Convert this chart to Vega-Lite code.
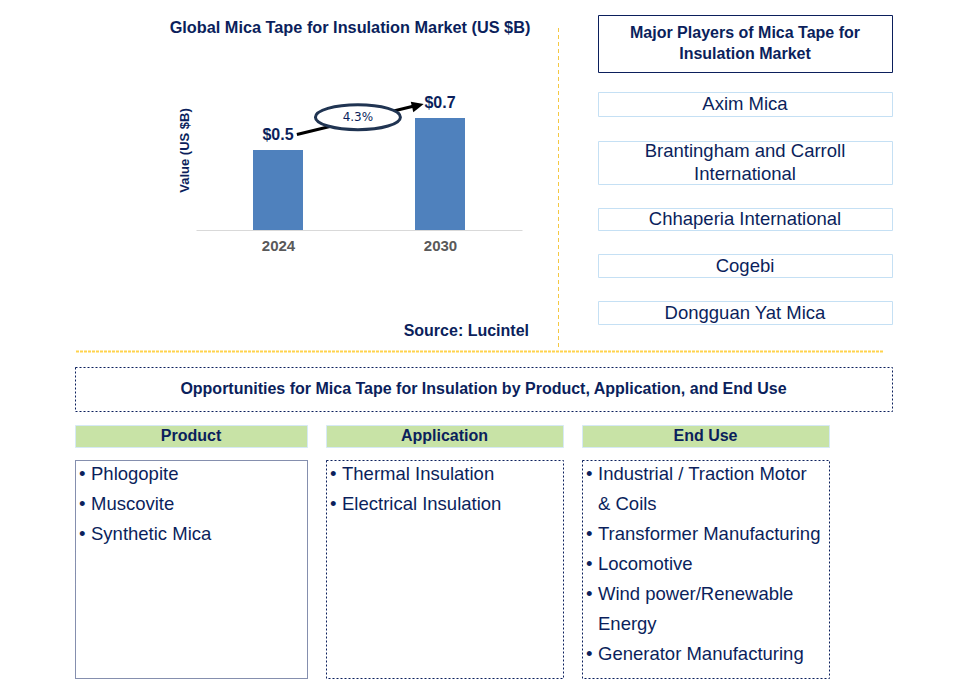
{
  "$schema": "https://vega.github.io/schema/vega-lite/v6.json",
  "background": "white",
  "padding": {"left": 74, "top": 14, "right": 0, "bottom": 0},
  "config": {
    "view": {"stroke": null},
    "font": "Liberation Sans",
    "text": {"font": "Liberation Sans"},
    "title": {"font": "Liberation Sans"},
    "axis": {"labelFont": "Liberation Sans", "titleFont": "Liberation Sans"}
  },
  "spacing": 0,
  "bounds": "full",
  "vconcat": [
    {
      "spacing": 0,
      "bounds": "full",
      "hconcat": [
        {"width": 94, "height": 1, "data": {"values": []}, "mark": "text"},
        {
          "spacing": 0,
          "bounds": "flush",
          "vconcat": [
            {"width": 1, "height": 55, "data": {"values": []}, "mark": "text"},
            {
              "width": 326,
              "height": 160,
              "title": {"text": "Global Mica Tape for Insulation Market (US $B)", "fontSize": 16.3, "fontWeight": "bold", "color": "#0b1f5c", "anchor": "middle", "dx": -9, "offset": 34},
              "layer": [
                {
                  "data": {"values": [{"year": 2024, "value": 0.5}, {"year": 2030, "value": 0.7}]},
                  "encoding": {
                    "x": {"field": "year", "type": "quantitative", "scale": {"domain": [2020.963, 2033.037], "nice": false, "zero": false, "padding": 0},
                      "axis": {"values": [2024, 2030], "format": "d", "title": null, "ticks": false, "grid": false, "labelFontSize": 15, "labelFontWeight": "bold", "labelColor": "#595959", "domainColor": "#d9d9d9", "labelPadding": 8}},
                    "y": {"field": "value", "type": "quantitative", "scale": {"domain": [0, 1], "nice": false, "padding": 0},
                      "axis": {"title": "Value (US $B)", "labels": false, "ticks": false, "domain": false, "grid": false, "titleFontSize": 13, "titleFontWeight": "bold", "titleColor": "#0b1f5c", "titlePadding": 5}}
                  },
                  "layer": [
                    {"mark": {"type": "bar", "width": 50, "color": "#4f81bd"}},
                    {"mark": {"type": "text", "dy": -15, "fontSize": 16, "fontWeight": "bold", "color": "#0b1f5c"},
                      "encoding": {"text": {"field": "value", "type": "quantitative", "format": "$.1f"}}}
                  ]
                },
                {
                  "data": {"values": [{"cagr": "4.3%"}]},
                  "layer": [
                    {"mark": {"type": "rule", "strokeWidth": 3, "color": "#000000"},
                      "encoding": {"x": {"datum": 2024.70}, "x2": {"datum": 2029.12}, "y": {"datum": 0.597}, "y2": {"datum": 0.778}}},
                    {"mark": {"type": "point", "shape": "M-1,-0.9L1,0L-1,0.9Z", "size": 144, "angle": 346, "filled": true, "color": "#000000", "opacity": 1},
                      "encoding": {"x": {"datum": 2029.18}, "y": {"datum": 0.778}}},
                    {"mark": {"type": "point", "shape": "M-1,0A1,0.294,0,1,1,1,0A1,0.294,0,1,1,-1,0Z", "size": 7225, "fill": "white", "stroke": "#203452", "strokeWidth": 3, "opacity": 1},
                      "encoding": {"x": {"datum": 2026.96}, "y": {"datum": 0.705}}},
                    {"mark": {"type": "text", "fontSize": 12, "font": "DejaVu Sans", "color": "#0b1f5c"},
                      "encoding": {"x": {"datum": 2026.96}, "y": {"datum": 0.705}, "text": {"field": "cagr"}}}
                  ]
                }
              ]
            },
            {"width": 1, "height": 90, "data": {"values": []}, "mark": "text"},
            {
              "width": 333,
              "height": 22,
              "data": {"values": [{"source": "Source: Lucintel"}]},
              "mark": {"type": "text", "align": "right", "baseline": "middle", "fontSize": 16, "fontWeight": "bold", "color": "#0b1f5c"},
              "encoding": {
                "x": {"field": "source", "type": "nominal", "scale": {"type": "point", "align": 1}, "axis": null},
                "text": {"field": "source"}
              }
            }
          ]
        },
        {"width": 27, "height": 1, "data": {"values": []}, "mark": "text"},
        {
          "spacing": 0,
          "bounds": "flush",
          "vconcat": [
            {"width": 1, "height": 13, "data": {"values": []}, "mark": "text"},
            {
              "width": 1,
              "height": 321,
              "data": {"values": [{"line": "divider"}]},
              "mark": {"type": "rule", "color": "#f5c842", "strokeDash": [4, 3], "strokeWidth": 1},
              "encoding": {"x": {"field": "line", "type": "nominal", "scale": {"type": "point"}, "axis": null}}
            }
          ]
        },
        {"width": 38, "height": 1, "data": {"values": []}, "mark": "text"},
        {
          "spacing": 0,
          "bounds": "flush",
          "vconcat": [
            {"width": 294, "height": 57, "view": {"stroke": "#0b1f5c"},
              "data": {"values": [{"heading": "Major Players of Mica Tape for\nInsulation Market"}]},
              "mark": {"type": "text", "fontSize": 16, "fontWeight": "bold", "color": "#0b1f5c", "lineBreak": "\n", "lineHeight": 21, "dy": -10.5},
              "encoding": {"text": {"field": "heading"}}},
            {"width": 1, "height": 20, "data": {"values": []}, "mark": "text"},
            {"width": 294, "height": 24, "view": {"stroke": "#c5e0f4"},
              "data": {"values": [{"company": "Axim Mica"}]},
              "mark": {"type": "text", "fontSize": 18.5, "color": "#0b1f5c"},
              "encoding": {"text": {"field": "company"}}},
            {"width": 1, "height": 25, "data": {"values": []}, "mark": "text"},
            {"width": 294, "height": 43, "view": {"stroke": "#c5e0f4"},
              "data": {"values": [{"company": "Brantingham and Carroll\nInternational"}]},
              "mark": {"type": "text", "fontSize": 18.5, "color": "#0b1f5c", "lineBreak": "\n", "lineHeight": 23, "dy": -11.5},
              "encoding": {"text": {"field": "company"}}},
            {"width": 1, "height": 24, "data": {"values": []}, "mark": "text"},
            {"width": 294, "height": 22, "view": {"stroke": "#c5e0f4"},
              "data": {"values": [{"company": "Chhaperia International"}]},
              "mark": {"type": "text", "fontSize": 18.5, "color": "#0b1f5c"},
              "encoding": {"text": {"field": "company"}}},
            {"width": 1, "height": 24, "data": {"values": []}, "mark": "text"},
            {"width": 294, "height": 23, "view": {"stroke": "#c5e0f4"},
              "data": {"values": [{"company": "Cogebi"}]},
              "mark": {"type": "text", "fontSize": 18.5, "color": "#0b1f5c"},
              "encoding": {"text": {"field": "company"}}},
            {"width": 1, "height": 24, "data": {"values": []}, "mark": "text"},
            {"width": 294, "height": 23, "view": {"stroke": "#c5e0f4"},
              "data": {"values": [{"company": "Dongguan Yat Mica"}]},
              "mark": {"type": "text", "fontSize": 18.5, "color": "#0b1f5c"},
              "encoding": {"text": {"field": "company"}}}
          ]
        }
      ]
    },
    {
      "width": 808,
      "height": 1,
      "data": {"values": [{"line": "separator"}]},
      "mark": {"type": "rule", "color": "#ffd34d", "strokeDash": [3, 1], "strokeWidth": 2},
      "encoding": {"y": {"field": "line", "type": "nominal", "scale": {"type": "point"}, "axis": null}}
    },
    {"width": 1, "height": 13, "data": {"values": []}, "mark": "text"},
    {
      "width": 817,
      "height": 44,
      "view": {"stroke": "#0b1f5c", "strokeDash": [2, 2]},
      "data": {"values": [{"heading": "Opportunities for Mica Tape for Insulation by Product, Application, and End Use"}]},
      "mark": {"type": "text", "fontSize": 16, "fontWeight": "bold", "color": "#0b1f5c"},
      "encoding": {"text": {"field": "heading"}}
    },
    {"width": 1, "height": 12, "data": {"values": []}, "mark": "text"},
    {
      "spacing": 0,
      "bounds": "full",
      "hconcat": [
        {
          "spacing": 0,
          "bounds": "flush",
          "vconcat": [
            {"width": 232, "height": 22, "view": {"fill": "#c8e3a6", "stroke": "#d6e9f5"},
              "data": {"values": [{"segment": "Product"}]},
              "mark": {"type": "text", "fontSize": 16, "fontWeight": "bold", "color": "#0b1f5c"},
              "encoding": {"text": {"field": "segment"}}},
            {"width": 1, "height": 13, "data": {"values": []}, "mark": "text"},
            {"width": 232, "height": 218, "view": {"stroke": "#0b1f5c", "strokeDash": [1, 1]},
              "data": {"values": [
                {"segment": "Product", "bullet": "•", "line": "Phlogopite"},
                {"segment": "Product", "bullet": "•", "line": "Muscovite"},
                {"segment": "Product", "bullet": "•", "line": "Synthetic Mica"}
              ]},
              "encoding": {
                "x": {"field": "segment", "type": "nominal", "scale": {"type": "point", "align": 0}, "axis": null},
                "y": {"field": "line", "type": "nominal", "sort": null, "scale": {"type": "point", "range": [0, 88], "padding": 0.4667}, "axis": null}
              },
              "layer": [
                {"mark": {"type": "text", "align": "left", "baseline": "middle", "dx": 4, "fontSize": 18.5, "color": "#0b1f5c"}, "encoding": {"text": {"field": "bullet"}}},
                {"mark": {"type": "text", "align": "left", "baseline": "middle", "dx": 16, "fontSize": 18.5, "color": "#0b1f5c"}, "encoding": {"text": {"field": "line"}}}
              ]}
          ]
        },
        {"width": 17, "height": 1, "data": {"values": []}, "mark": "text"},
        {
          "spacing": 0,
          "bounds": "flush",
          "vconcat": [
            {"width": 237, "height": 22, "view": {"fill": "#c8e3a6", "stroke": "#d6e9f5"},
              "data": {"values": [{"segment": "Application"}]},
              "mark": {"type": "text", "fontSize": 16, "fontWeight": "bold", "color": "#0b1f5c"},
              "encoding": {"text": {"field": "segment"}}},
            {"width": 1, "height": 13, "data": {"values": []}, "mark": "text"},
            {"width": 237, "height": 218, "view": {"stroke": "#0b1f5c", "strokeDash": [2, 2]},
              "data": {"values": [
                {"segment": "Application", "bullet": "•", "line": "Thermal Insulation"},
                {"segment": "Application", "bullet": "•", "line": "Electrical Insulation"}
              ]},
              "encoding": {
                "x": {"field": "segment", "type": "nominal", "scale": {"type": "point", "align": 0}, "axis": null},
                "y": {"field": "line", "type": "nominal", "sort": null, "scale": {"type": "point", "range": [0, 58], "padding": 0.4667}, "axis": null}
              },
              "layer": [
                {"mark": {"type": "text", "align": "left", "baseline": "middle", "dx": 4, "fontSize": 18.5, "color": "#0b1f5c"}, "encoding": {"text": {"field": "bullet"}}},
                {"mark": {"type": "text", "align": "left", "baseline": "middle", "dx": 16, "fontSize": 18.5, "color": "#0b1f5c"}, "encoding": {"text": {"field": "line"}}}
              ]}
          ]
        },
        {"width": 17, "height": 1, "data": {"values": []}, "mark": "text"},
        {
          "spacing": 0,
          "bounds": "flush",
          "vconcat": [
            {"width": 247, "height": 22, "view": {"fill": "#c8e3a6", "stroke": "#d6e9f5"},
              "data": {"values": [{"segment": "End Use"}]},
              "mark": {"type": "text", "fontSize": 16, "fontWeight": "bold", "color": "#0b1f5c"},
              "encoding": {"text": {"field": "segment"}}},
            {"width": 1, "height": 13, "data": {"values": []}, "mark": "text"},
            {"width": 247, "height": 218, "view": {"stroke": "#0b1f5c", "strokeDash": [2, 2]},
              "data": {"values": [
                {"segment": "End Use", "bullet": "•", "line": "Industrial / Traction Motor"},
                {"segment": "End Use", "bullet": "", "line": "& Coils"},
                {"segment": "End Use", "bullet": "•", "line": "Transformer Manufacturing"},
                {"segment": "End Use", "bullet": "•", "line": "Locomotive"},
                {"segment": "End Use", "bullet": "•", "line": "Wind power/Renewable"},
                {"segment": "End Use", "bullet": "", "line": "Energy"},
                {"segment": "End Use", "bullet": "•", "line": "Generator Manufacturing"}
              ]},
              "encoding": {
                "x": {"field": "segment", "type": "nominal", "scale": {"type": "point", "align": 0}, "axis": null},
                "y": {"field": "line", "type": "nominal", "sort": null, "scale": {"type": "point", "range": [0, 208], "padding": 0.4667}, "axis": null}
              },
              "layer": [
                {"mark": {"type": "text", "align": "left", "baseline": "middle", "dx": 4, "fontSize": 18.5, "color": "#0b1f5c"}, "encoding": {"text": {"field": "bullet"}}},
                {"mark": {"type": "text", "align": "left", "baseline": "middle", "dx": 16, "fontSize": 18.5, "color": "#0b1f5c"}, "encoding": {"text": {"field": "line"}}}
              ]}
          ]
        }
      ]
    }
  ]
}
